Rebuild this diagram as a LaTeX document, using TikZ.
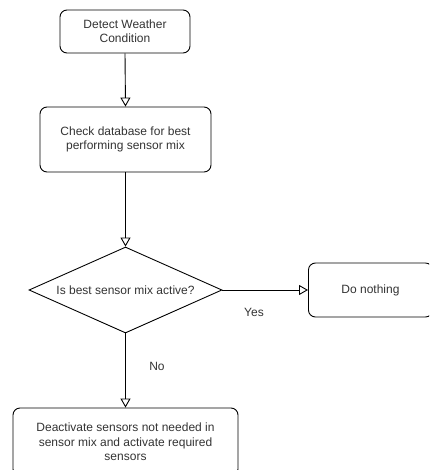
\documentclass[tikz,border=0pt]{standalone}
\usepackage{fontspec}
\setmainfont{Liberation Sans}
\usetikzlibrary{shapes.geometric,arrows.meta}
\definecolor{txt}{HTML}{333333}
\tikzset{
  box/.style={draw=black, line width=0.9pt, rounded corners=7pt, align=center, inner sep=0pt, text=txt,
    font=\fontsize{12}{14.4}\selectfont},
  dec/.style={draw=black, line width=0.9pt, diamond, aspect=2.24, inner sep=0pt, text=txt,
    font=\fontsize{12}{14.4}\selectfont},
  lbl/.style={text=txt, font=\fontsize{12}{14.4}\selectfont, inner sep=0pt},
  conn/.style={draw=black, line width=0.9pt, -{Triangle[open, length=9pt, width=10pt, line width=0.9pt]}},
}
\begin{document}
\begin{tikzpicture}[x=1pt, y=-1pt]
\useasboundingbox (0,0) rectangle (429,470);
\clip (0,0) rectangle (429,470);
\node[box, minimum width=130pt, minimum height=43pt] (b1) at (125,31.5) {Detect Weather\\Condition};
\node[box, minimum width=171pt, minimum height=65pt] (b2) at (125.5,139.5) {Check database for best\\performing sensor mix};
\node[dec, minimum width=193pt, minimum height=86pt] (d) at (125.5,290) {Is best sensor mix active?};
\node[box, minimum width=124pt, minimum height=54pt, anchor=west] (dn) at (308,290) {Do nothing};
\node[box, minimum width=225pt, minimum height=68pt] (b4) at (125.5,442) {Deactivate sensors not needed in\\sensor mix and activate required\\sensors};
\draw[conn] (b1.south) -- (b2.north);
\draw[conn] (b2.south) -- (d.north);
\draw[conn] (d.east) -- (dn.west);
\draw[conn] (d.south) -- (b4.north);
\node[lbl] (yes) at (254,312) {Yes};
\node[lbl] (no) at (157,366) {No};
\end{tikzpicture}
\end{document}
